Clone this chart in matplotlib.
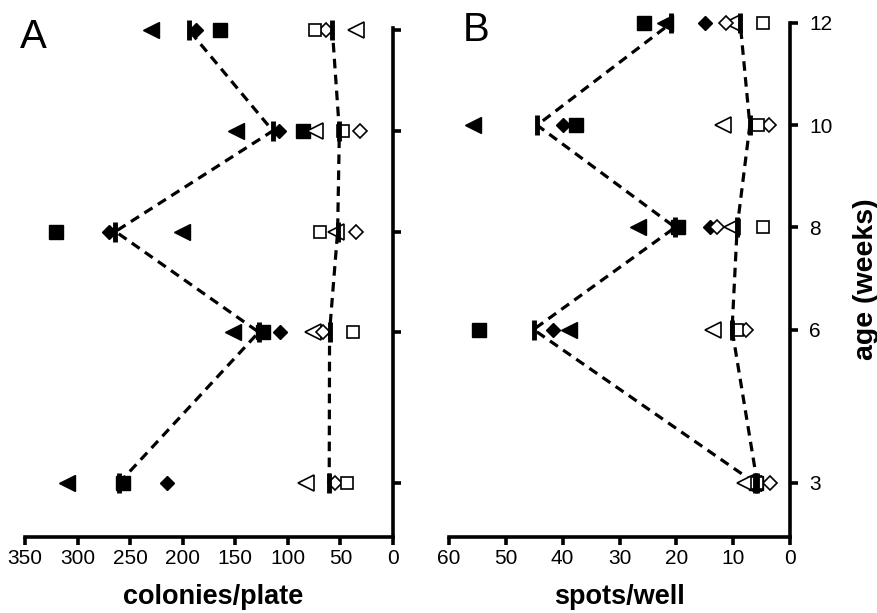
import numpy as np
import matplotlib
matplotlib.use("Agg")
import matplotlib.pyplot as plt

plt.rcParams['font.family'] = ['Liberation Sans', 'DejaVu Sans']

weeks = [3, 6, 8, 10, 12]

# panel A: colonies/plate  (filled = group 1, open = group 2)
a_fill_tri = [310, 152, 201, 149, 230]
a_fill_dia = [215, 107, 270, 108, 187]
a_fill_sq = [257, 124, 321, 86, 165]
a_open_tri = [83, 76, 54, 74, 35]
a_open_dia = [55, 67, 35, 31, 64]
a_open_sq = [44, 38, 69, 48, 74]

# panel B: spots/well
b_fill_tri = [6.5, 38.9, 26.8, 55.8, 22.0]
b_fill_dia = [6.2, 41.7, 14.1, 40.0, 15.0]
b_fill_sq = [5.9, 54.8, 19.7, 37.7, 25.7]
b_open_tri = [7.9, 13.6, 10.2, 11.8, 10.2]
b_open_dia = [3.6, 7.7, 12.9, 3.7, 11.3]
b_open_sq = [5.8, 9.3, 4.8, 5.7, 4.8]

a_ticks = [350, 300, 250, 200, 150, 100, 50, 0]
b_ticks = [60, 50, 40, 30, 20, 10, 0]


def draw_panel(ax, fill, opn):
    fill_mean = np.mean(fill, axis=0)
    open_mean = np.mean(opn, axis=0)
    ax.plot(fill_mean, weeks, color='black', ls=(0, (3, 2)), lw=2.3, zorder=2, clip_on=False)
    ax.plot(open_mean, weeks, color='black', ls=(0, (3, 2)), lw=2.3, zorder=2, clip_on=False)
    kw = dict(ls='none', color='black', clip_on=False, zorder=3)
    ax.plot(fill[0], weeks, marker='<', ms=11, **kw)
    ax.plot(fill[1], weeks, marker='D', ms=7.5, **kw)
    ax.plot(fill[2], weeks, marker='s', ms=10, **kw)
    okw = dict(ls='none', mfc='white', mec='black', mew=1.2, clip_on=False, zorder=4)
    ax.plot(opn[0], weeks, marker='<', ms=11, **okw)
    ax.plot(opn[1], weeks, marker='D', ms=7.5, **okw)
    ax.plot(opn[2], weeks, marker='s', ms=9, **okw)
    ax.plot(fill_mean, weeks, ls='none', marker='|', ms=15, mew=3.5, color='black', zorder=5, clip_on=False)
    ax.plot(open_mean, weeks, ls='none', marker='|', ms=15, mew=3.5, color='black', zorder=5, clip_on=False)

    for s in ['top', 'left']:
        ax.spines[s].set_visible(False)
    for s in ['right', 'bottom']:
        ax.spines[s].set_linewidth(2.6)
    ax.yaxis.tick_right()
    ax.set_yticks(weeks)
    ax.tick_params(axis='both', direction='out', width=2.6, length=6, labelsize=15)
    ax.tick_params(axis='x', pad=3)


fig = plt.figure(figsize=(8.78, 6.13), dpi=100)
axA = fig.add_axes([0.0285, 0.124, 0.4191, 0.830])
axB = fig.add_axes([0.5114, 0.124, 0.3884, 0.8385])

draw_panel(axA, [a_fill_tri, a_fill_dia, a_fill_sq], [a_open_tri, a_open_dia, a_open_sq])
axA.set_xlim(350, 0)
axA.set_ylim(1.93, 12.04)
axA.set_xticks(a_ticks)
axA.set_yticklabels([])

draw_panel(axB, [b_fill_tri, b_fill_dia, b_fill_sq], [b_open_tri, b_open_dia, b_open_sq])
axB.set_xlim(60, 0)
axB.set_ylim(1.94, 12.0)
axB.set_xticks(b_ticks)
axB.tick_params(axis='y', pad=8)

fig.text(0.0385, 0.94, 'A', fontsize=29, va='center', ha='center')
fig.text(0.542, 0.951, 'B', fontsize=29, va='center', ha='center')
fig.text(0.243, 0.026, 'colonies/plate', fontsize=19.5, fontweight='bold', ha='center', va='center')
fig.text(0.706, 0.026, 'spots/well', fontsize=19.5, fontweight='bold', ha='center', va='center')
fig.text(0.986, 0.545, 'age (weeks)', fontsize=20.5, fontweight='bold', rotation=90, ha='center', va='center')

fig.savefig('out.png', dpi=100)
